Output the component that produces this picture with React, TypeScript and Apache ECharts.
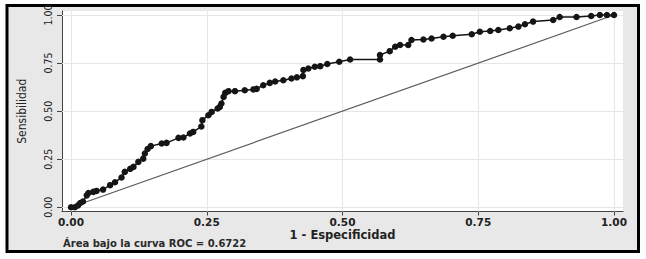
import React, { useEffect, useRef } from "react";
import * as echarts from "echarts";

const fpr = [
  0, 0.007, 0.013, 0.017, 0.022, 0.029, 0.032, 0.041, 0.047, 0.059, 0.072, 0.081, 0.093, 0.099,
  0.109, 0.115, 0.124, 0.133, 0.136, 0.141, 0.147, 0.167, 0.176, 0.198, 0.207, 0.219, 0.225,
  0.24, 0.242, 0.253, 0.259, 0.27, 0.274, 0.277, 0.281, 0.284, 0.29, 0.302, 0.32, 0.336, 0.342,
  0.354, 0.366, 0.376, 0.391, 0.406, 0.416, 0.427, 0.428, 0.437, 0.449, 0.459, 0.472, 0.494,
  0.514, 0.569, 0.569, 0.587, 0.597, 0.606, 0.621, 0.627, 0.649, 0.664, 0.686, 0.703, 0.738,
  0.753, 0.772, 0.787, 0.808, 0.824, 0.836, 0.851, 0.888, 0.9, 0.931, 0.958, 0.974, 0.987, 1,
];
const tpr = [
  0, 0, 0.01, 0.022, 0.03, 0.062, 0.074, 0.08, 0.085, 0.092, 0.115, 0.13, 0.155, 0.184, 0.2,
  0.21, 0.236, 0.253, 0.28, 0.303, 0.318, 0.332, 0.335, 0.361, 0.363, 0.384, 0.392, 0.42, 0.453,
  0.479, 0.496, 0.514, 0.522, 0.54, 0.574, 0.595, 0.604, 0.604, 0.609, 0.613, 0.616, 0.635,
  0.647, 0.654, 0.661, 0.67, 0.676, 0.682, 0.714, 0.722, 0.731, 0.734, 0.745, 0.757, 0.769,
  0.769, 0.792, 0.812, 0.835, 0.844, 0.844, 0.87, 0.873, 0.878, 0.887, 0.892, 0.9, 0.913, 0.917,
  0.922, 0.931, 0.94, 0.952, 0.966, 0.974, 0.99, 0.99, 0.995, 1, 1, 1,
];
const diagonal = [
  [0, 0],
  [1, 1],
];
const xTicks = [0, 0.25, 0.5, 0.75, 1];
const yTicks = [0, 0.25, 0.5, 0.75, 1];
const xTitle = "1 - Especificidad";
const yTitle = "Sensibilidad";
const note = "Área bajo la curva ROC = 0.6722";

const narrow = "'Liberation Sans Narrow', 'DejaVu Sans Condensed', 'Arial Narrow', sans-serif";
const wide = "'DejaVu Sans', Verdana, sans-serif";

export default function App() {
  const ref = useRef<HTMLDivElement>(null);
  useEffect(() => {
    if (!ref.current) return;
    const chart = echarts.init(ref.current, null, { renderer: "svg" });
    const roc = fpr.map((x, i) => [x, tpr[i]]);
    chart.setOption({
      animation: false,
      backgroundColor: "#ffffff",
      graphic: [
        {
          type: "rect",
          z: -10,
          shape: { x: 7, y: 5.5, width: 631.5, height: 246 },
          style: { fill: "#e8e8e8", stroke: "#000", lineWidth: 3 },
        },
        {
          type: "text",
          left: 63,
          top: 238,
          style: { text: note, fill: "#2a2a2a", font: `bold 10px ${wide}` },
        },
      ],
      grid: {
        left: 62,
        right: 23,
        top: 11,
        bottom: 47.5,
        show: true,
        backgroundColor: "#ffffff",
        borderWidth: 0,
      },
      xAxis: {
        type: "value",
        min: -0.0166,
        max: 1.0166,
        name: xTitle,
        nameLocation: "middle",
        nameGap: 17,
        nameMoveOverlap: false,
        nameTextStyle: { fontFamily: wide, fontWeight: "bold", fontSize: 11.5, color: "#222" },
        axisLine: { show: true, onZero: false, lineStyle: { color: "#444", width: 1 } },
        axisTick: { show: true, customValues: xTicks, length: 4, lineStyle: { color: "#444" } },
        axisLabel: {
          customValues: xTicks,
          formatter: (v: number) => v.toFixed(2),
          margin: 5,
          fontFamily: wide,
          fontWeight: "bold",
          fontSize: 10.5,
          color: "#222",
        },
        splitLine: { show: false },
      },
      yAxis: {
        type: "value",
        min: -0.022,
        max: 1.021,
        name: yTitle,
        nameLocation: "middle",
        nameGap: 34,
        nameRotate: 90,
        nameMoveOverlap: false,
        nameTextStyle: { fontFamily: narrow, fontSize: 12, color: "#222" },
        axisLine: { show: true, onZero: false, lineStyle: { color: "#444", width: 1 } },
        axisTick: { show: true, customValues: yTicks, length: 5, lineStyle: { color: "#444" } },
        axisLabel: {
          customValues: yTicks,
          formatter: (v: number) => v.toFixed(2),
          rotate: 90,
          margin: 9,
          fontFamily: narrow,
          fontSize: 10.5,
          color: "#222",
        },
        splitLine: { show: false },
      },
      series: [
        {
          type: "line",
          data: [],
          silent: true,
          z: 1,
          markLine: {
            z: 1,
            silent: true,
            symbol: ["none", "none"],
            label: { show: false },
            lineStyle: { color: "#e6e6e6", width: 1, type: "solid" },
            data: [
              ...xTicks.map((v) => ({ xAxis: v })),
              ...yTicks.map((v) => ({ yAxis: v })),
            ],
          },
        },
        {
          type: "line",
          data: diagonal,
          showSymbol: false,
          silent: true,
          z: 2,
          lineStyle: { color: "#5a5a5a", width: 1.2 },
        },
        {
          type: "line",
          data: roc,
          symbol: "circle",
          symbolSize: 6.5,
          showSymbol: true,
          silent: true,
          z: 3,
          itemStyle: { color: "#151515" },
          lineStyle: { color: "#151515", width: 1.5 },
        },
      ],
    });
    return () => chart.dispose();
  }, []);
  return (
    <div
      ref={ref}
      style={{ position: "absolute", left: 0, top: 0, width: 646, height: 259 }}
    />
  );
}
